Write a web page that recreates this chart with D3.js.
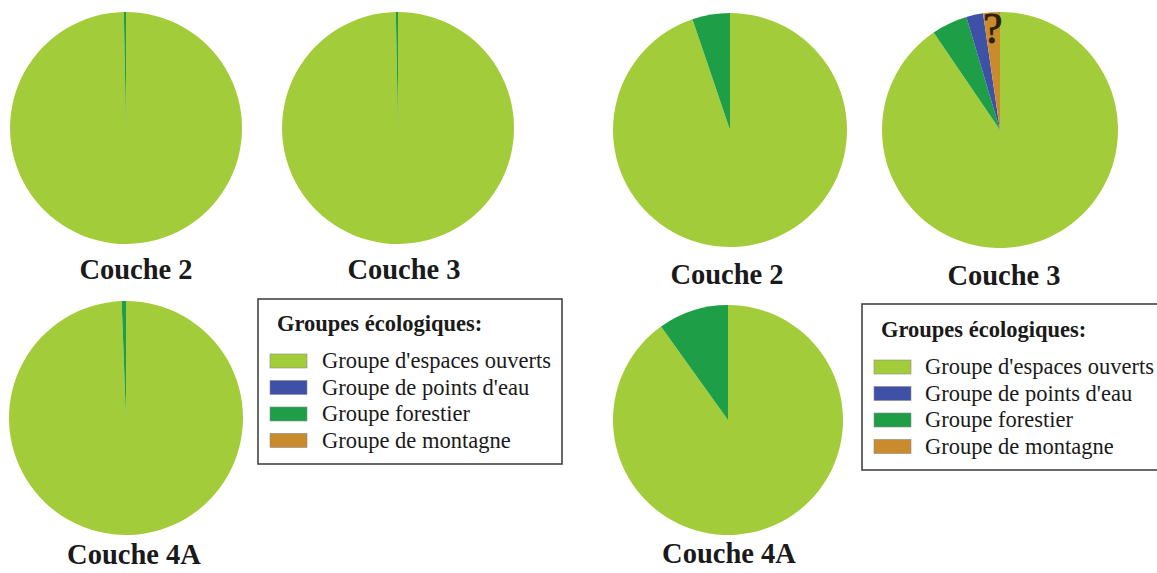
<!DOCTYPE html>
<html>
<head>
<meta charset="utf-8">
<script src="https://cdn.jsdelivr.net/npm/d3@7"></script>
<style>
  html, body { margin: 0; padding: 0; background: #fff; }
  svg { display: block; }
  text { font-family: "Liberation Serif", "Times New Roman", serif; fill: #1a1a1a; }
</style>
</head>
<body>
<svg id="chart" width="1157" height="573"></svg>
<script>
// ---------- data ----------
const categories = ["Groupe d'espaces ouverts", "Groupe de points d'eau", "Groupe forestier", "Groupe de montagne"];
const layers = ["Couche 2", "Couche 3", "Couche 4A"];
const legendTitle = "Groupes écologiques:";
const uncertainMark = "?";

// left panel (% of each layer)
const leftOuverts    = [99.7, 99.7, 99.4];
const leftEau        = [0, 0, 0];
const leftForestier  = [0.3, 0.3, 0.6];
const leftMontagne   = [0, 0, 0];

// right panel (% of each layer)
const rightOuverts   = [94.8, 90.5, 90.1];
const rightEau       = [0, 2.3, 0];
const rightForestier = [5.2, 4.9, 9.9];
const rightMontagne  = [0, 2.3, 0];

// clockwise drawing order of the groups in each pie (indices into categories)
const sliceOrder = [0, 2, 1, 3];

// ---------- styles ----------
const colors = ["#a3cc3a", "#3e51a6", "#1f9e48", "#c98b2c"];
const color = d3.scaleOrdinal().domain(categories).range(colors);

const svg = d3.select("#chart");
svg.append("rect").attr("width", 1157).attr("height", 573).attr("fill", "#fff");

function layerValues(ouv, eau, forest, mont, i) {
  const v = [ouv[i], eau[i], forest[i], mont[i]];
  return sliceOrder.map(k => ({ cat: categories[k], value: v[k] }));
}

const pie = d3.pie().sort(null).value(d => d.value);

function drawPie(cx, cy, r, data, label, lx, ly) {
  const g = svg.append("g").attr("transform", `translate(${cx},${cy})`);
  const arc = d3.arc().innerRadius(0).outerRadius(r);
  g.selectAll("path")
    .data(pie(data).filter(d => d.data.value > 0))
    .join("path")
    .attr("d", arc)
    .attr("fill", d => color(d.data.cat));
  svg.append("text")
    .attr("x", lx).attr("y", ly)
    .attr("text-anchor", "middle")
    .attr("font-weight", "bold")
    .attr("font-size", 28.5)
    .text(label);
  return { g, arc };
}

function drawLegend(x, y, w, h, titleX, titleY, swX, rowY0, textX) {
  const g = svg.append("g");
  g.append("rect")
    .attr("x", x).attr("y", y).attr("width", w).attr("height", h)
    .attr("fill", "#fff").attr("stroke", "#444").attr("stroke-width", 1.6);
  g.append("text")
    .attr("x", titleX).attr("y", titleY)
    .attr("font-weight", "bold").attr("font-size", 22.5)
    .text(legendTitle);
  const rows = g.selectAll("g.row").data(categories).join("g").attr("class", "row")
    .attr("transform", (d, i) => `translate(0,${rowY0 + i * 26.5})`);
  rows.append("rect")
    .attr("x", swX).attr("y", -14).attr("width", 37).attr("height", 14)
    .attr("fill", d => color(d))
    .attr("stroke", "#8a8a8a").attr("stroke-width", 0.6);
  rows.append("text")
    .attr("x", textX).attr("y", 0)
    .attr("font-size", 22.5)
    .text(d => d);
}

// ---------- left panel ----------
drawPie(126, 128, 116, layerValues(leftOuverts, leftEau, leftForestier, leftMontagne, 0), layers[0], 136, 279);
drawPie(398, 128, 116, layerValues(leftOuverts, leftEau, leftForestier, leftMontagne, 1), layers[1], 404, 279);
drawPie(126, 418, 117, layerValues(leftOuverts, leftEau, leftForestier, leftMontagne, 2), layers[2], 134, 564);
drawLegend(258, 299, 304, 165, 277, 331, 270, 368, 322);

// ---------- right panel ----------
drawPie(730, 130, 117, layerValues(rightOuverts, rightEau, rightForestier, rightMontagne, 0), layers[0], 727, 284);
const p3 = drawPie(1000, 130, 118, layerValues(rightOuverts, rightEau, rightForestier, rightMontagne, 1), layers[1], 1004, 285);
drawPie(728, 420, 115, layerValues(rightOuverts, rightEau, rightForestier, rightMontagne, 2), layers[2], 729, 563);
drawLegend(862, 304, 320, 166, 881, 337, 874, 374, 925);

// question mark on the mountain-group slice of Couche 3 (right)
const mountSlice = pie(layerValues(rightOuverts, rightEau, rightForestier, rightMontagne, 1))
  .find(d => d.data.cat === categories[3]);
const midAngle = (mountSlice.startAngle + mountSlice.endAngle) / 2;
const qPos = d3.pointRadial(midAngle, 102);
p3.g.append("text")
  .attr("x", qPos[0]).attr("y", qPos[1] + 15)
  .attr("text-anchor", "middle")
  .attr("font-size", 44)
  .style("fill", "#2b1f0f")
  .style("stroke", "#2b1f0f")
  .style("stroke-width", 0.8)
  .text(uncertainMark);
</script>
</body>
</html>
